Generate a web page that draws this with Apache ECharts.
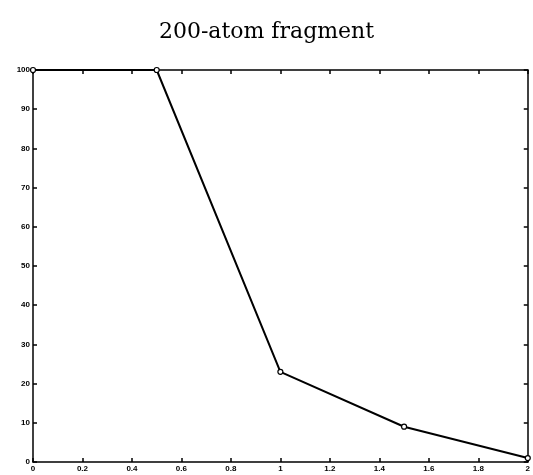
<!DOCTYPE html>
<html>
<head>
<meta charset="utf-8">
<script src="https://cdn.jsdelivr.net/npm/echarts@6/dist/echarts.min.js"></script>
<style>
  html, body { margin: 0; padding: 0; background: #fff; }
  #chart { width: 533px; height: 475px; }
</style>
</head>
<body>
<div id="chart"></div>
<script>
// 数据
const xValues = [0, 0.5, 1, 1.5, 2];
const yValues = [100, 100, 23, 9, 1];
const titleText = '200-atom fragment';

const chart = echarts.init(document.getElementById('chart'));

const axisLine = { show: true, onZero: false, lineStyle: { color: '#000', width: 1.5 } };
const tickStyle = { show: true, inside: true, length: 4, lineStyle: { color: '#000', width: 1.5 } };
const labelStyle = { color: '#000', fontSize: 8, fontWeight: 'bold', fontFamily: 'Liberation Sans, Arial' };

const option = {
    backgroundColor: '#fff',
    animation: false,
    title: {
        text: titleText,
        left: 'center',
        top: 16,
        textStyle: { fontFamily: 'DejaVu Serif', fontWeight: 'normal', fontSize: 22, color: '#000' }
    },
    grid: { left: 33, right: 3, top: 70, bottom: 13 },
    xAxis: [
        {
            type: 'value', min: 0, max: 2, interval: 0.2,
            axisLine: axisLine, axisTick: tickStyle,
            axisLabel: Object.assign({ margin: 3 }, labelStyle),
            splitLine: { show: false }
        },
        {
            type: 'value', min: 0, max: 2, interval: 0.2, position: 'top',
            axisLine: axisLine, axisTick: tickStyle,
            axisLabel: { show: false }, splitLine: { show: false }
        }
    ],
    yAxis: [
        {
            type: 'value', min: 0, max: 100, interval: 10,
            axisLine: axisLine, axisTick: tickStyle,
            axisLabel: Object.assign({ margin: 3 }, labelStyle),
            splitLine: { show: false }
        },
        {
            type: 'value', min: 0, max: 100, interval: 10, position: 'right',
            axisLine: axisLine, axisTick: tickStyle,
            axisLabel: { show: false }, splitLine: { show: false }
        }
    ],
    series: [
        {
            type: 'line',
            data: xValues.map((x, i) => [x, yValues[i]]),
            symbol: 'circle',
            symbolSize: 5,
            itemStyle: { color: '#fff', borderColor: '#000', borderWidth: 1.2 },
            lineStyle: { color: '#000', width: 2 },
            clip: false
        }
    ]
};
chart.setOption(option);
</script>
</body>
</html>
